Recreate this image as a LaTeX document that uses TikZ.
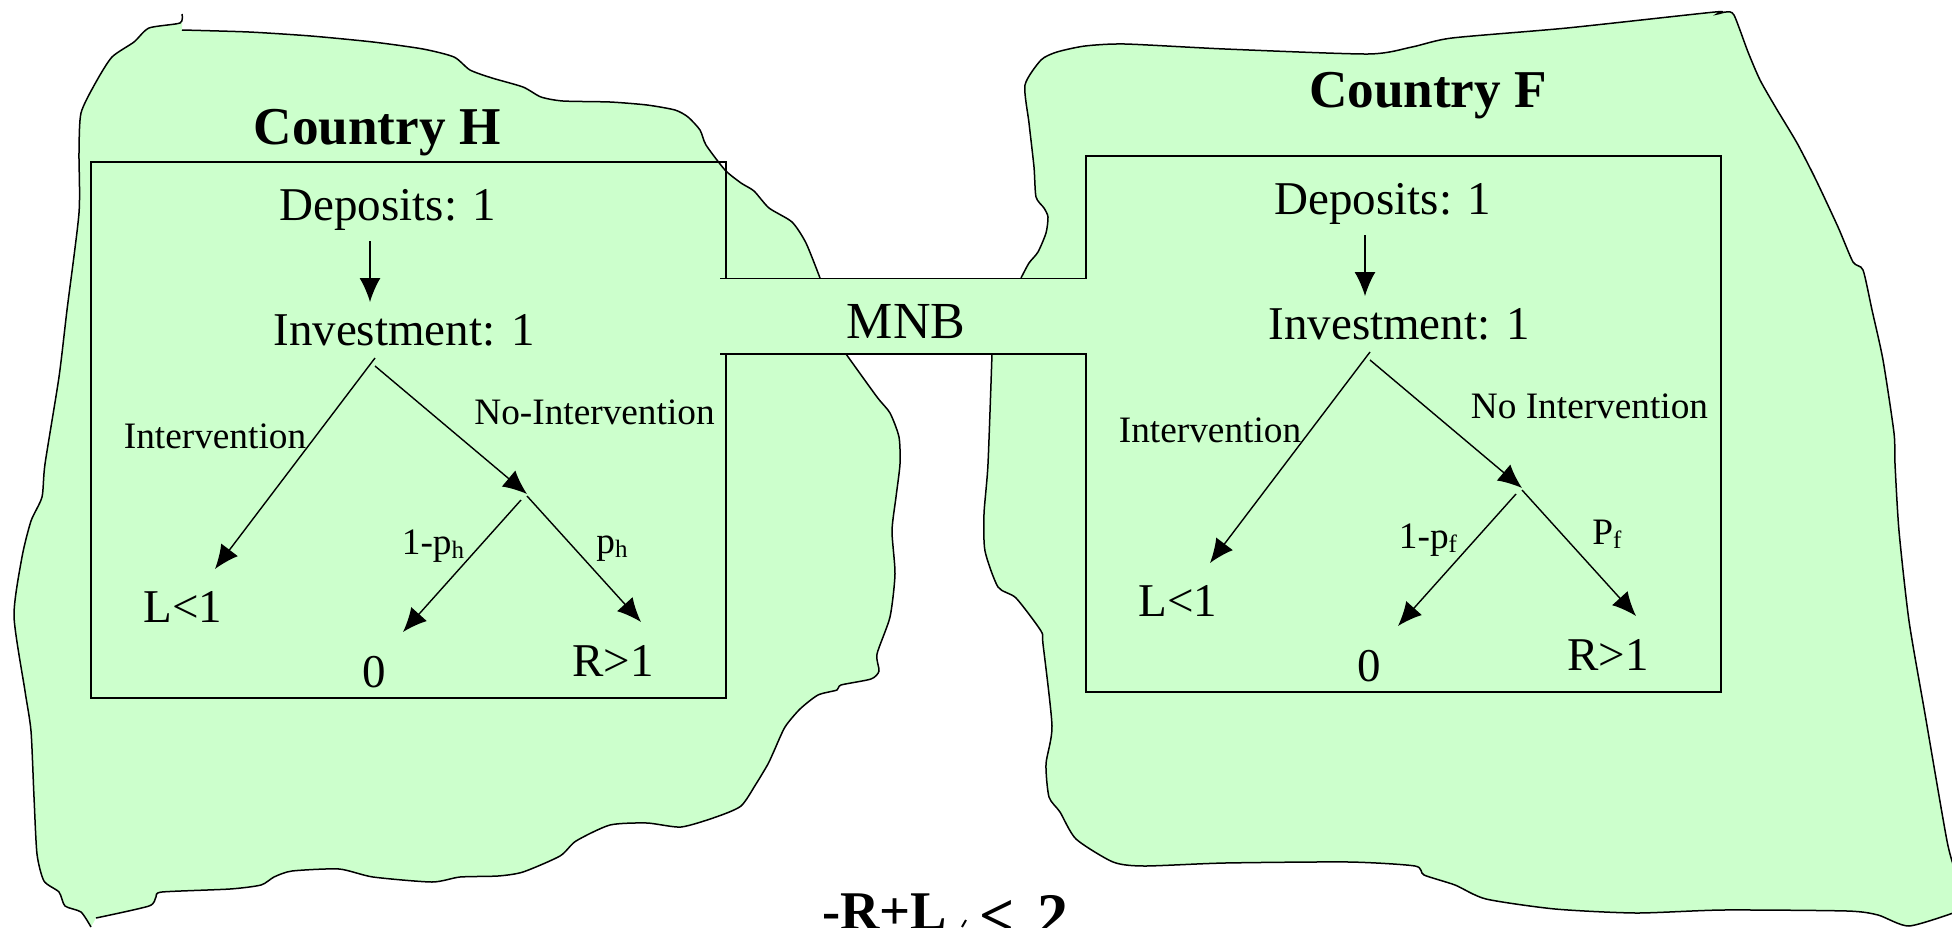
\documentclass[tikz,border=0pt]{standalone}
\usepackage{fontspec}
\setmainfont{Liberation Serif}
\usetikzlibrary{arrows.meta}
\definecolor{landgreen}{HTML}{CCFFCC}
\tikzset{
  land/.style={fill=landgreen,draw=none},
  coast/.style={draw=black,line width=1.5pt},
  frame/.style={draw=black,line width=1.6pt},
  big/.style={anchor=base,inner sep=0pt,font=\fontsize{47}{50}\selectfont},
  mid/.style={anchor=base,inner sep=0pt,font=\fontsize{37.3}{40}\selectfont},
  head/.style={anchor=base,inner sep=0pt,font=\fontsize{53.2}{56}\selectfont\bfseries},
  ln/.style={-{Latex[length=24pt,width=21pt]},line width=1.4pt},
}
\newcommand{\lowsub}[1]{\raisebox{-0.13em}{\fontsize{25}{27}\selectfont #1}}
\def\edgeaux{-- }
\def\edge#1{\expandafter\edgeaux#1}
\def\coastHa{plot[smooth,tension=.4] coordinates {(182,30) (249,32) (311,36) (373,42) (423,49) (454,57) (470,70)
  (492,78) (523,87) (541,97) (563,101) (610,102) (647,105) (675,110) (688,117) (700,130)
  (706,145) (725,170) (741,183) (754,191) (769,208) (792,222) (806,243) (820,278)}}
\def\coastHb{plot[smooth,tension=.4] coordinates {(846,354) (877,397) (890,413) (899,437) (900,464) (896,497)
  (892,531) (895,574) (890,617) (877,654) (879,671) (871,679) (841,685) (837,690) (818,695) (800,709)
  (785,727) (774,751) (768,764) (756,784) (741,806) (716,817) (681,827) (647,823) (610,825)
  (576,841) (560,856) (523,872) (498,876) (460,877) (432,882) (373,877) (339,869) (292,871)
  (274,877) (261,885) (230,889) (162,892) (156,897) (149,906) (96,918)}}
\def\coastHc{plot[smooth,tension=.4] coordinates {(91,927) (81,912) (65,906) (59,892) (44,881) (37,854) (34,797)
  (31,731) (25,691) (14,616) (22,557) (31,521) (42,497) (45,464) (59,377) (67,310) (79,213)
  (79,153) (81,113) (96,82) (112,57) (134,42) (149,28) (180,23) (182,14)}}
\def\coastFa{plot[smooth,tension=.4] coordinates {(1021,278) (1029,263) (1038,252) (1046,233) (1048,217) (1044,208)
  (1036,197) (1034,167) (1029,123) (1025,85) (1041,60) (1057,52) (1085,46) (1125,44) (1225,49)
  (1368,54) (1412,47) (1452,38) (1567,28) (1715,12) (1717,14) (1726,12) (1734,15) (1748,52)
  (1760,80) (1776,108) (1797,143) (1816,180) (1838,227) (1853,262) (1863,270) (1872,310)
  (1883,360) (1894,433) (1895,464) (1899,531) (1909,621) (1925,714) (1947,841) (1956,873)}}
\def\coastFb{plot[smooth,tension=.4] coordinates {(1956,912) (1909,926) (1878,915) (1847,911) (1723,910) (1636,913)
  (1555,909) (1486,899) (1455,885) (1424,875) (1415,866) (1349,862) (1225,863) (1144,866)
  (1113,862) (1076,839) (1060,812) (1049,797) (1046,764) (1052,726) (1043,644) (1041,631)
  (1016,598) (998,587) (985,551) (984,514) (988,464) (992,354)}}

\begin{document}
\begin{tikzpicture}[x=1pt,y=-1pt]
\useasboundingbox (0,0) rectangle (1952,927);

% ------------------------------------------------ land
\fill[land] \coastHa \edge\coastHb \edge\coastHc -- cycle;
\fill[land] \coastFa \edge\coastFb -- cycle;
\draw[coast] \coastHa;
\draw[coast] \coastHb;
\draw[coast] \coastHc;
\draw[coast] \coastFa;
\draw[coast] \coastFb;

% ------------------------------------------------ both countries
\foreach \c/\dx/\dy/\name/\nx/\ny/\no/\lo/\hi/\hx/\hy in {%
  H/0/0/{Country H}/377/144/{No-Intervention}/{1-p\lowsub{h}}/{p\lowsub{h}}/612/553,
  F/995/-6/{Country F}/1428/107/{No Intervention}/{1-p\lowsub{f}}/{P\lowsub{f}}/1607/544}
{
  \node[head] (title\c) at (\nx,\ny) {\name};
  \begin{scope}[shift={(\dx,\dy)}]
    \node[frame,anchor=north west,minimum width=635pt,minimum height=536pt,inner sep=0pt]
      (box\c) at (90,161) {};
    \node[big] (dep\c) at (388,220) {Deposits: 1};
    \node[big] (inv\c) at (404,345) {Investment: 1};
    \node[mid] (int\c) at (215,448) {Intervention};
    \node[mid] (non\c) at (594.5,424) {\no};
    \node[big] (low\c) at (183,622) {L<1};
    \node[big] (zero\c) at (374,687) {0};
    \node[big] (high\c) at (613,676) {R>1};
    \node[mid] (lop\c) at (433,554) {\lo};
    % arrow ends sit off the text, so they get their own names
    \coordinate (depend\c) at (370,241);
    \coordinate (invtop\c) at (370,302);
    \coordinate (forka\c) at (375,358);
    \coordinate (forkb\c) at (375,366);
    \coordinate (lowtip\c) at (215,569);
    \coordinate (midtip\c) at (527,494);
    \coordinate (forkc\c) at (521,500);
    \coordinate (forkd\c) at (527,496);
    \coordinate (zerotip\c) at (403,632);
    \coordinate (hightip\c) at (641,622);
    \draw[ln] (depend\c) -- (invtop\c);
    \draw[ln] (forka\c) -- (lowtip\c);
    \draw[ln] (forkb\c) -- (midtip\c);
    \draw[ln] (forkc\c) -- (zerotip\c);
    \draw[ln] (forkd\c) -- (hightip\c);
  \end{scope}
  \node[mid] (hip\c) at (\hx,\hy) {\hi};
}

% ------------------------------------------------ the bridge
\fill[land] (720,278.5) rectangle (1087,354);
\draw[frame] (720,278.5) -- (1087,278.5);
\draw[frame] (720,354) -- (1087,354);
\node[anchor=base,inner sep=0pt,font=\fontsize{52}{55}\selectfont] (mnb) at (906,338) {MNB};

% ------------------------------------------------ cut off by the page edge
\node[head,anchor=base west,font=\fontsize{54.5}{56}\selectfont\bfseries] (cond) at (822,929)
  {-R+L\hspace{32pt}\raisebox{-7pt}{\fontsize{62}{64}\selectfont <\hspace{23pt}2}};
\draw[line width=2pt] (962,927) -- (966,920);
\end{tikzpicture}
\end{document}
